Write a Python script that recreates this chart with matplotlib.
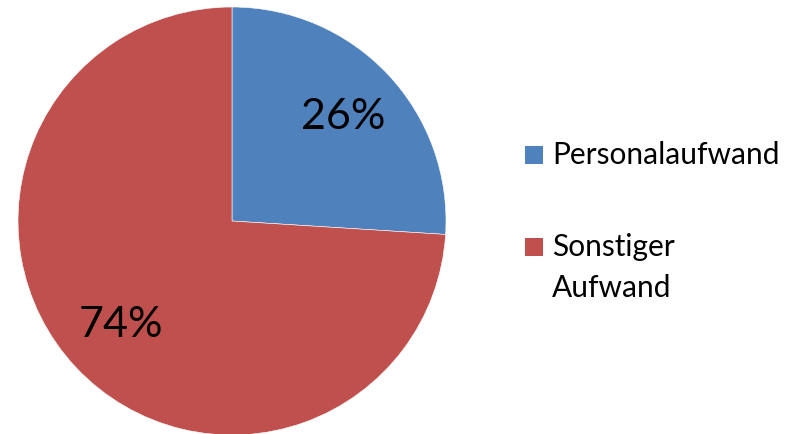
import matplotlib.pyplot as plt
from matplotlib.patches import Rectangle

labels = ["Personalaufwand", "Sonstiger\nAufwand"]
shares = [26, 74]
colors = ["#4F81BD", "#C0504D"]

plt.rcParams["font.family"] = ["Lato", "DejaVu Sans"]

W, H = 794, 434
fig = plt.figure(figsize=(W / 100, H / 100), dpi=100)
# pie centre ~ (232, 221) px, radius ~214 px
ax = fig.add_axes([18 / W, (H - 435) / H, 428 / W, 428 / H])

wedges, texts, autotexts = ax.pie(
    shares, colors=colors, startangle=90, counterclock=False,
    autopct="%1.0f%%", pctdistance=0.71, radius=1.0,
    wedgeprops=dict(edgecolor="white", linewidth=0.4),
    textprops=dict(fontsize=31, color="black"),
)
ax.set_xlim(-1, 1)
ax.set_ylim(-1, 1)
ax.set_aspect("equal")

# legend drawn by hand: square + label, top edge of each square in px
entry_y = [146, 238]
for lab, col, y in zip(labels, colors, entry_y):
    fig.add_artist(Rectangle((525 / W, 1 - (y + 18) / H), 18 / W, 18 / H,
                             facecolor=col, edgecolor="none",
                             transform=fig.transFigure))
    fig.text(552 / W, 1 - (y - 5) / H, lab, fontsize=21.5, va="top",
             ha="left", linespacing=1.55)

fig.savefig("out.png", dpi=100)
